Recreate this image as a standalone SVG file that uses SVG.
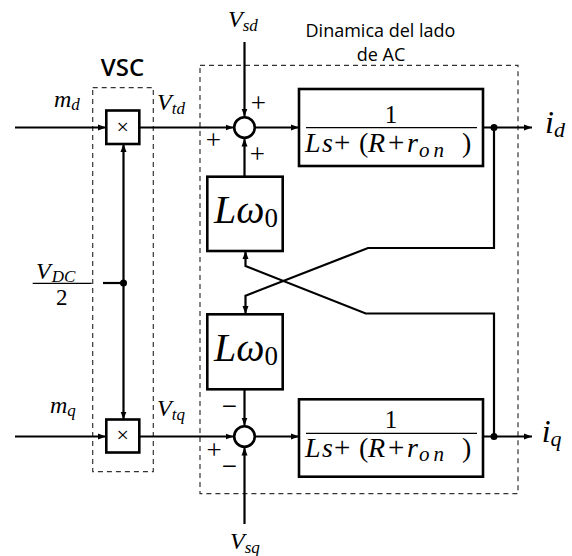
<svg xmlns="http://www.w3.org/2000/svg" width="572" height="556" viewBox="0 0 572 556">
<style>
.ln{fill:none;stroke:#000;stroke-width:2.2}
.bx{fill:#fff;stroke:#000;stroke-width:2.6}
.dash{fill:none;stroke:#333;stroke-width:1.2;stroke-dasharray:5,4}
.m{font-family:"Liberation Serif","DejaVu Serif",serif;font-style:italic;fill:#000}
.r{font-family:"Liberation Serif","DejaVu Serif",serif;font-style:normal;fill:#000}
.s{font-family:"Open Sans","Noto Sans",sans-serif;fill:#000}
</style>
<defs>
<marker id="ar" markerUnits="userSpaceOnUse" markerWidth="9" markerHeight="7" refX="8" refY="3.5" orient="auto">
<path d="M0,0.5 L8,3.5 L0,6.5 z" fill="#000"/>
</marker>
</defs>

<g id="vsc-box">
<rect class="dash" x="92.7" y="87.7" width="60.6" height="384"/>
<text class="s" x="122.5" y="76" font-size="24" font-weight="600" text-anchor="middle">VSC</text>
</g>
<g id="ac-box">
<rect class="dash" x="200" y="65.3" width="318" height="428.4"/>
<text class="s" x="380.5" y="36.7" font-size="18" text-anchor="middle">Dinamica del lado</text>
<text class="s" x="381" y="60.7" font-size="18" text-anchor="middle">de AC</text>
</g>

<g id="connectors">
<path class="ln" d="M15,127.5 H106" marker-end="url(#ar)"/>
<path class="ln" d="M139,127.5 H233.5" marker-end="url(#ar)"/>
<path class="ln" d="M255,127.5 H299" marker-end="url(#ar)"/>
<path class="ln" d="M483,127.5 H532" marker-end="url(#ar)"/>
<path class="ln" d="M244.5,42 V116.5" marker-end="url(#ar)"/>
<path class="ln" d="M244.5,177 V138.5" marker-end="url(#ar)"/>
<path class="ln" d="M494,127.5 V248 H368 L245.5,295.7 V314" marker-end="url(#ar)"/>
<path class="ln" d="M494,436.5 V313.5 H365.7 L245.5,266 V251" marker-end="url(#ar)"/>
<path class="ln" d="M244.5,389.3 V425.5" marker-end="url(#ar)"/>
<path class="ln" d="M244.5,524 V447.5" marker-end="url(#ar)"/>
<path class="ln" d="M15,436.5 H106" marker-end="url(#ar)"/>
<path class="ln" d="M139,436.5 H233.5" marker-end="url(#ar)"/>
<path class="ln" d="M255,436.5 H299" marker-end="url(#ar)"/>
<path class="ln" d="M483,436.5 H532" marker-end="url(#ar)"/>
<path class="ln" d="M103,283 H123.5"/>
<path class="ln" d="M123.5,283 V144" marker-end="url(#ar)"/>
<path class="ln" d="M123.5,283 V419.5" marker-end="url(#ar)"/>
<circle cx="123.5" cy="283" r="3.5" fill="#000"/>
<circle cx="494" cy="127.5" r="3.5" fill="#000"/>
<circle cx="494" cy="436.5" r="3.5" fill="#000"/>
</g>

<g id="mult-d">
<rect class="bx" x="106.3" y="110.5" width="33" height="33.5"/>
<text class="r" x="122.8" y="133.5" font-size="22" text-anchor="middle">×</text>
</g>
<g id="mult-q">
<rect class="bx" x="106.3" y="419.5" width="33" height="33"/>
<text class="r" x="122.8" y="442.3" font-size="22" text-anchor="middle">×</text>
</g>

<g id="sum-d">
<circle cx="244.5" cy="127.5" r="10.3" fill="#fff" stroke="#000" stroke-width="2.6"/>
<text class="r" x="258.3" y="112" font-size="27" text-anchor="middle">+</text>
<text class="r" x="213.3" y="148.8" font-size="27" text-anchor="middle">+</text>
<text class="r" x="257.3" y="162.8" font-size="27" text-anchor="middle">+</text>
</g>
<g id="sum-q">
<circle cx="244.5" cy="436.5" r="10.3" fill="#fff" stroke="#000" stroke-width="2.6"/>
<text class="r" x="229.3" y="415.3" font-size="27" text-anchor="middle">−</text>
<text class="r" x="214" y="458.7" font-size="27" text-anchor="middle">+</text>
<text class="r" x="229.3" y="474.7" font-size="27" text-anchor="middle">−</text>
</g>

<g id="lw-d">
<rect class="bx" x="207.3" y="176.7" width="75.4" height="74.3"/>
<text class="m" x="214" y="223" font-size="40">Lω<tspan class="r" font-size="27" dy="4">0</tspan></text>
</g>
<g id="lw-q">
<rect class="bx" x="207.3" y="314.3" width="75.4" height="75"/>
<text class="m" x="214" y="360.5" font-size="40">Lω<tspan class="r" font-size="27" dy="4">0</tspan></text>
</g>

<g id="tf-d">
<rect class="bx" x="299" y="89" width="184" height="77" stroke-width="3"/>
<text class="r" x="391" y="123" font-size="25" text-anchor="middle">1</text>
<line x1="306" y1="127.7" x2="477" y2="127.7" stroke="#000" stroke-width="1.3"/>
<g font-size="28">
<text class="m" x="305" y="152">L</text><text class="m" x="322" y="152">s</text>
<text class="r" x="334" y="152" font-size="29">+</text><text class="r" x="359" y="152">(</text>
<text class="m" x="368" y="152">R</text><text class="r" x="388" y="152" font-size="29">+</text>
<text class="m" x="407" y="152">r</text><text class="m" x="419" y="156.5" font-size="21" letter-spacing="4">on</text>
<text class="r" x="462" y="152">)</text>
</g>
</g>
<g id="tf-q">
<rect class="bx" x="299" y="399.3" width="184" height="77.4" stroke-width="3"/>
<text class="r" x="391" y="428.3" font-size="25" text-anchor="middle">1</text>
<line x1="306" y1="433.3" x2="477" y2="433.3" stroke="#000" stroke-width="1.3"/>
<g font-size="28">
<text class="m" x="305" y="456.5">L</text><text class="m" x="322" y="456.5">s</text>
<text class="r" x="334" y="456.5" font-size="29">+</text><text class="r" x="359" y="456.5">(</text>
<text class="m" x="368" y="456.5">R</text><text class="r" x="388" y="456.5" font-size="29">+</text>
<text class="m" x="407" y="456.5">r</text><text class="m" x="419" y="461" font-size="21" letter-spacing="4">on</text>
<text class="r" x="462" y="456.5">)</text>
</g>
</g>

<g id="labels">
<text class="m" x="54" y="107" font-size="24">m<tspan font-size="17" dy="3">d</tspan></text>
<text class="m" x="50" y="413" font-size="24">m<tspan font-size="17" dy="3">q</tspan></text>
<text class="m" x="157" y="110" font-size="24">V<tspan font-size="17" dy="4">td</tspan></text>
<text class="m" x="157" y="415.5" font-size="24">V<tspan font-size="17" dy="4">tq</tspan></text>
<text class="m" x="228" y="27" font-size="24">V<tspan font-size="17" dy="4">sd</tspan></text>
<text class="m" x="230" y="549" font-size="24">V<tspan font-size="17" dy="4">sq</tspan></text>
<text class="m" x="545" y="133.3" font-size="32">i<tspan font-size="22" dy="4">d</tspan></text>
<text class="m" x="541.7" y="441.7" font-size="32">i<tspan font-size="22" dy="4">q</tspan></text>
<text class="m" x="36" y="279" font-size="24">V<tspan font-size="17" dy="3" dx="1">DC</tspan></text>
<line x1="32.7" y1="283.3" x2="91.7" y2="283.3" stroke="#000" stroke-width="1.3"/>
<text class="r" x="61.7" y="305" font-size="23" text-anchor="middle">2</text>
</g>
</svg>
